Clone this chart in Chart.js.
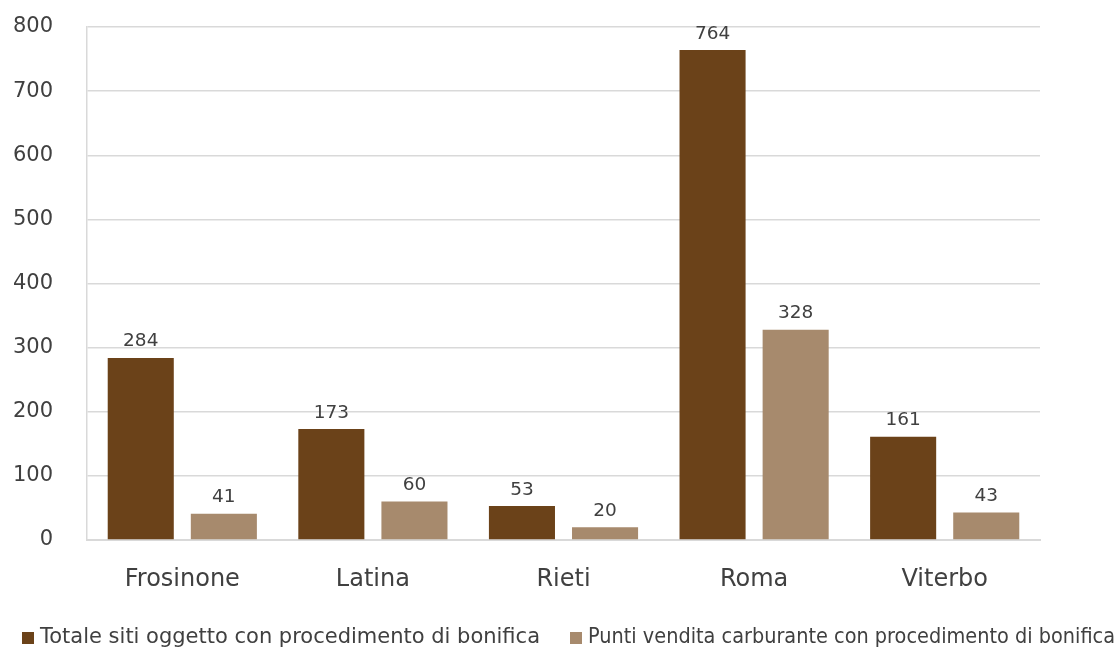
<!DOCTYPE html>
<html>
<head>
<meta charset="utf-8">
<script src="https://cdn.jsdelivr.net/npm/chart.js@4/dist/chart.umd.min.js"></script>
<style>
html,body{margin:0;padding:0;background:#fff;}
#wrap{width:1120px;height:650px;position:relative;}
</style>
</head>
<body>
<div id="wrap"><canvas id="c" width="1120" height="650"></canvas></div>
<script>
const categories = ["Frosinone", "Latina", "Rieti", "Roma", "Viterbo"];
const seriesNames = ["Totale siti oggetto con procedimento di bonifica", "Punti vendita carburante con procedimento di bonifica"];
const totaleSiti = [284, 173, 53, 764, 161];
const puntiVendita = [41, 60, 20, 328, 43];
const yTicks = [0, 100, 200, 300, 400, 500, 600, 700, 800];

const FONT = "'DejaVu Sans', sans-serif";
const TXT = "#404040";

const valueLabels = {
  id: 'valueLabels',
  afterDatasetsDraw(chart) {
    const ctx = chart.ctx;
    ctx.save();
    ctx.font = "18.5px " + FONT;
    ctx.fillStyle = TXT;
    ctx.textAlign = 'center';
    ctx.textBaseline = 'bottom';
    chart.data.datasets.forEach((ds, i) => {
      const meta = chart.getDatasetMeta(i);
      meta.data.forEach((bar, j) => {
        ctx.fillText(String(ds.data[j]), bar.x, bar.y - 7);
      });
    });
    ctx.restore();
  }
};

const bottomLegend = {
  id: 'bottomLegend',
  afterDraw(chart) {
    const ctx = chart.ctx;
    const starts = [22, 570];
    const widths = [500, 527];
    const yc = 638;
    ctx.save();
    ctx.font = "21px " + FONT;
    ctx.textBaseline = 'middle';
    ctx.textAlign = 'left';
    chart.data.datasets.forEach((ds, i) => {
      const x = starts[i];
      ctx.fillStyle = ds.backgroundColor;
      ctx.fillRect(x, yc - 6, 12, 12);
      ctx.fillStyle = TXT;
      ctx.fillText(ds.label, x + 18, yc, widths[i]);
    });
    ctx.restore();
  }
};

new Chart(document.getElementById('c'), {
  type: 'bar',
  data: {
    labels: categories,
    datasets: [
      { label: seriesNames[0], data: totaleSiti, backgroundColor: '#6B4219', categoryPercentage: 0.872, barPercentage: 0.795 },
      { label: seriesNames[1], data: puntiVendita, backgroundColor: '#A78A6D', categoryPercentage: 0.872, barPercentage: 0.795 }
    ]
  },
  options: {
    responsive: false,
    animation: false,
    devicePixelRatio: 1,
    layout: { padding: { top: 27, right: 80, left: 0, bottom: 40 } },
    plugins: {
      legend: { display: false },
      tooltip: { enabled: false }
    },
    scales: {
      x: {
        grid: { display: false, drawTicks: false },
        border: { display: true, color: '#d9d9d9', width: 2 },
        ticks: { font: { family: FONT, size: 24 }, color: TXT, padding: 25 },
        afterFit(s) { s.height = 70; }
      },
      y: {
        min: 0, max: 800,
        afterBuildTicks(s) { s.ticks = yTicks.map(v => ({ value: v })); },
        grid: { color: '#d9d9d9', lineWidth: 1.5, drawTicks: false },
        border: { display: true, color: '#d9d9d9', width: 1.5 },
        ticks: { font: { family: FONT, size: 21 }, color: TXT, padding: 34 },
        afterFit(s) { s.width = 87; s.paddingTop = 0; s.paddingBottom = 0; }
      }
    }
  },
  plugins: [valueLabels, bottomLegend]
});
</script>
</body>
</html>
